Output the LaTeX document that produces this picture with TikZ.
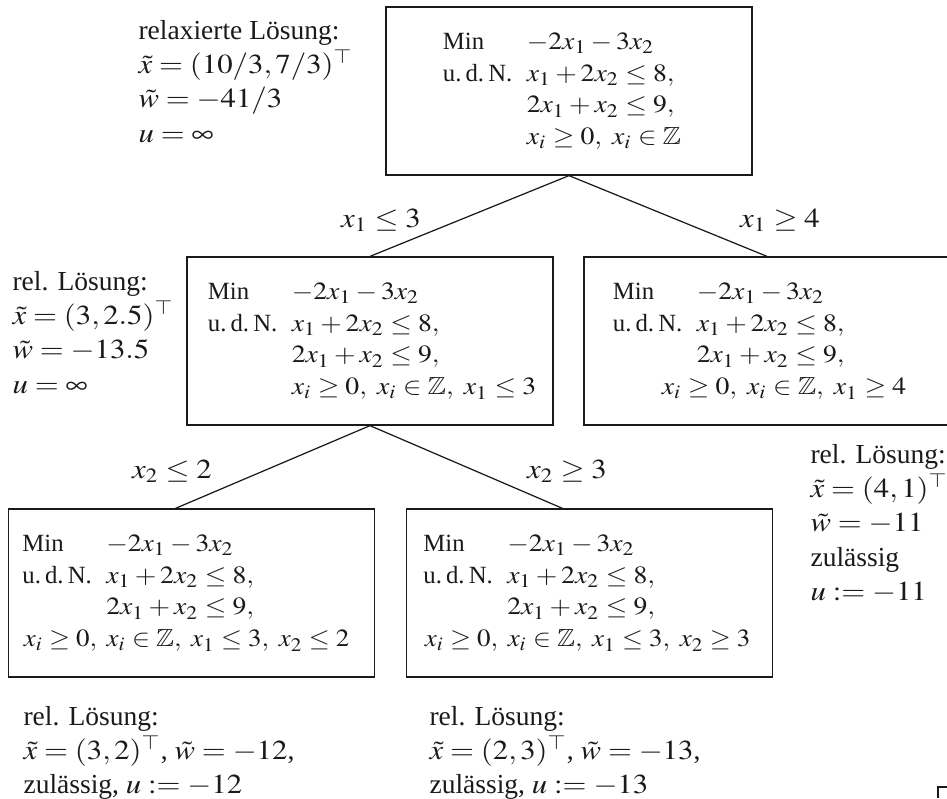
\documentclass[tikz,border=0pt]{standalone}
\usepackage{amssymb}
\usepackage{mathptmx}
\usepackage[no-math]{fontspec}
\setmainfont{Liberation Serif}
\usepackage{graphicx}
\usepackage{xcolor}
\definecolor{cMain}{HTML}{1A1A1A}
\usetikzlibrary{calc}
\tikzset{
  node-box/.style={draw=cMain,line width=0.45pt,inner sep=0pt,
    minimum width=133.1pt,minimum height=61.1pt},
  node-lp/.style={anchor=base west,inner sep=0pt,font=\small,text=cMain},
  node-sol/.style={anchor=base west,inner sep=0pt,text=cMain},
  node-cut/.style={anchor=base,inner sep=0pt,text=cMain},
  branch/.style={draw=cMain,line width=0.45pt},
}
% Formel etwas breiter setzen (wie in der Vorlage)
\newcommand{\mx}[2][1.12]{\scalebox{#1}[1]{$#2$}}
% Teilproblem: #2 = Einzug der letzten Zeile, #3 = letzte Zeile
\newcommand{\lpsys}[3][1.12]{%
  \renewcommand{\arraystretch}{1.05}%
  \begin{tabular}[t]{@{}p{30.5pt}@{}l@{}}
    Min & \mx{-2x_1-3x_2}\\
    u.\,d.\,N. & \mx{x_1+2x_2\le 8,}\\
     & \mx{2x_1+x_2\le 9,}\\
    \multicolumn{2}{@{}l@{}}{\hspace*{#2}\mx[#1]{#3}}
  \end{tabular}}
\newcommand{\sol}[1]{{\renewcommand{\arraystretch}{1.04}%
  \begin{tabular}[t]{@{}l@{}}#1\end{tabular}}}

\begin{document}
\begin{tikzpicture}[x=0.3636pt,y=-0.3636pt]
  \useasboundingbox (0,0) rectangle (947,798);
  % Teilprobleme
  \node[node-box] (p0) at (569,91) {};
  \node[node-box] (p1) at (370,341) {};
  \node[node-box] (p2) at (767,341) {};
  \node[node-box] (p3) at (191.5,593) {};
  \node[node-box] (p4) at (589.5,593) {};
  \node[node-lp] (t0) at ($(p0.north west)+(57,43)$)
    {\lpsys{30.5pt}{x_i\ge 0,\ x_i\in\mathbb{Z}}};
  \node[node-lp] (t1) at ($(p1.north west)+(21,43)$)
    {\lpsys{30.5pt}{x_i\ge 0,\ x_i\in\mathbb{Z},\ x_1\le 3}};
  \node[node-lp] (t2) at ($(p2.north west)+(29,43)$)
    {\lpsys{17.8pt}{x_i\ge 0,\ x_i\in\mathbb{Z},\ x_1\ge 4}};
  \node[node-lp] (t3) at ($(p3.north west)+(14,43)$)
    {\lpsys[1.09]{0.5pt}{x_i\ge 0,\ x_i\in\mathbb{Z},\ x_1\le 3,\ x_2\le 2}};
  \node[node-lp] (t4) at ($(p4.north west)+(17,43)$)
    {\lpsys[1.09]{0.5pt}{x_i\ge 0,\ x_i\in\mathbb{Z},\ x_1\le 3,\ x_2\ge 3}};
  % Verzweigungen
  \draw[branch] (p0.south) -- (p1.north);
  \draw[branch] (p0.south) -- (p2.north);
  \draw[branch] (p1.south) -- ($(p3.north)+(-16,0)$);
  \draw[branch] (p1.south) -- ($(p4.north)+(-27,0)$);
  \node[node-cut] (c1) at (381,227) {\mx{x_1\le 3}};
  \node[node-cut] (c2) at (780,227) {\mx{x_1\ge 4}};
  \node[node-cut] (c3) at (172,478) {\mx{x_2\le 2}};
  \node[node-cut] (c4) at (567,478) {\mx{x_2\ge 3}};
  % relaxierte Loesungen
  \node[node-sol] (s0) at (138,39) {\sol{relaxierte Lösung:\\
    \mx{\tilde x=(10/3,7/3)^\top}\\ \mx{\tilde w=-41/3}\\ \mx{u=\infty}}};
  \node[node-sol] (s1) at (12,290) {\sol{rel. Lösung:\\
    \mx{\tilde x=(3,2.5)^\top}\\ \mx{\tilde w=-13.5}\\ \mx{u=\infty}}};
  \node[node-sol] (s2) at (810,463) {\sol{rel. Lösung:\\
    \mx{\tilde x=(4,1)^\top}\\ \mx{\tilde w=-11}\\ zulässig\\ \mx{u:=-11}}};
  \node[node-sol] (s3) at (23,725) {\sol{rel. Lösung:\\
    \mx{\tilde x=(3,2)^\top}, \mx{\tilde w=-12},\\ zulässig, \mx{u:=-12}}};
  \node[node-sol] (s4) at (429,725) {\sol{rel. Lösung:\\
    \mx{\tilde x=(2,3)^\top}, \mx{\tilde w=-13},\\ zulässig, \mx{u:=-13}}};
  \draw[cMain,line width=0.45pt] (938,798) |- (947,787);
\end{tikzpicture}
\end{document}
